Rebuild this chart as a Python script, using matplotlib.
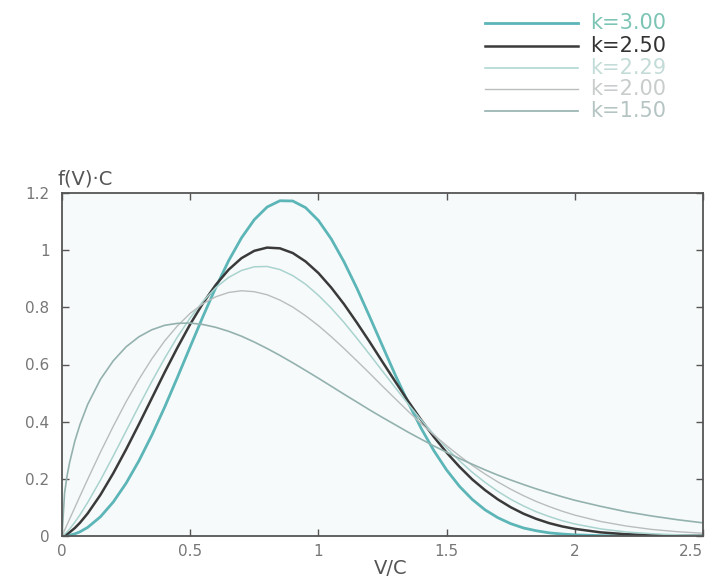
import matplotlib
matplotlib.use("Agg")
import matplotlib.pyplot as plt
from matplotlib.lines import Line2D

# V/C sample positions
v = [0.0, 0.01, 0.02, 0.03, 0.05, 0.07, 0.1, 0.15, 0.2, 0.25, 0.3, 0.35, 0.4, 0.45, 0.5,
     0.55, 0.6, 0.65, 0.7, 0.75, 0.8, 0.85, 0.9, 0.95, 1.0, 1.05, 1.1, 1.15, 1.2, 1.25,
     1.3, 1.35, 1.4, 1.45, 1.5, 1.55, 1.6, 1.65, 1.7, 1.75, 1.8, 1.85, 1.9, 1.95, 2.0,
     2.1, 2.2, 2.3, 2.4, 2.5]

# f(V)*C values read for each shape factor k
f_k300 = [0.0, 0.0003, 0.0012, 0.0027, 0.0075, 0.0147, 0.030, 0.0673, 0.119, 0.1846,
          0.263, 0.3521, 0.450, 0.5546, 0.662, 0.7684, 0.870, 0.9632, 1.043, 1.1067,
          1.151, 1.1729, 1.172, 1.1488, 1.104, 1.0395, 0.959, 0.8669, 0.767, 0.6647,
          0.563, 0.4670, 0.378, 0.2990, 0.231, 0.1740, 0.128, 0.0915, 0.064, 0.0432,
          0.028, 0.0183, 0.011, 0.0069, 0.004, 0.0013, 0.0004, 0.0001, 0.0, 0.0]
f_k250 = [0.0, 0.0025, 0.0071, 0.0130, 0.0279, 0.0462, 0.0788, 0.1440, 0.2196, 0.3029,
          0.391, 0.4815, 0.572, 0.6588, 0.741, 0.8148, 0.879, 0.9319, 0.972, 0.9977,
          1.009, 1.0064, 0.990, 0.9604, 0.920, 0.8691, 0.811, 0.7464, 0.679, 0.6090,
          0.540, 0.4718, 0.407, 0.3472, 0.292, 0.2424, 0.198, 0.1605, 0.128, 0.1007,
          0.078, 0.0598, 0.045, 0.0336, 0.025, 0.0128, 0.0062, 0.0029, 0.0012, 0.0005]
f_k229 = [0.0, 0.0060, 0.0147, 0.0249, 0.0480, 0.0740, 0.117, 0.1956, 0.280, 0.3673,
          0.455, 0.5401, 0.621, 0.6962, 0.763, 0.8212, 0.869, 0.9047, 0.929, 0.9418,
          0.943, 0.9321, 0.911, 0.8809, 0.842, 0.7972, 0.747, 0.6919, 0.635, 0.5767,
          0.519, 0.4619, 0.407, 0.3557, 0.308, 0.2633, 0.223, 0.1876, 0.156, 0.1285,
          0.105, 0.0847, 0.068, 0.0537, 0.042, 0.025, 0.014, 0.008, 0.004, 0.002]
f_k200 = [0.0, 0.020, 0.040, 0.0599, 0.0995, 0.1393, 0.198, 0.2933, 0.384, 0.4697,
          0.548, 0.6193, 0.682, 0.7350, 0.779, 0.8129, 0.837, 0.8520, 0.858, 0.8547,
          0.844, 0.8254, 0.801, 0.7705, 0.736, 0.6974, 0.656, 0.6129, 0.569, 0.5240,
          0.480, 0.4364, 0.394, 0.3542, 0.316, 0.2805, 0.247, 0.2168, 0.189, 0.1637,
          0.141, 0.1207, 0.103, 0.0870, 0.073, 0.051, 0.035, 0.023, 0.015, 0.0097]
f_k150 = [0.0, 0.150, 0.212, 0.2585, 0.332, 0.3896, 0.460, 0.5482, 0.613, 0.6619,
          0.697, 0.7214, 0.737, 0.7440, 0.745, 0.7398, 0.730, 0.7161, 0.699, 0.6785,
          0.656, 0.6317, 0.606, 0.5792, 0.552, 0.5241, 0.496, 0.4687, 0.441, 0.4146,
          0.389, 0.3632, 0.339, 0.3151, 0.293, 0.2712, 0.251, 0.2314, 0.213, 0.1960,
          0.180, 0.1648, 0.151, 0.1375, 0.125, 0.104, 0.085, 0.070, 0.057, 0.046]

labels = ["k=3.00", "k=2.50", "k=2.29", "k=2.00", "k=1.50"]
series = [f_k300, f_k250, f_k229, f_k200, f_k150]
colors = ["#5cb5b7", "#3a3a3a", "#a9d3cf", "#b9bdbd", "#93b2af"]
widths = [2.0, 1.8, 1.1, 1.0, 1.2]
text_colors = ["#7cc4b4", "#333333", "#c4dcd8", "#c8cccc", "#b4c4c2"]
xticks = [0, 0.5, 1, 1.5, 2, 2.5]
xticklabels = ["0", "0.5", "1", "1.5", "2", "2.5"]
yticks = [0, 0.2, 0.4, 0.6, 0.8, 1.0, 1.2]
yticklabels = ["0", "0.2", "0.4", "0.6", "0.8", "1", "1.2"]

W, H = 709, 584
fig = plt.figure(figsize=(7.09, 5.84), dpi=100)
fig.patch.set_facecolor("white")
ax = fig.add_axes([62 / W, 1 - 536 / H, (703 - 62) / W, (536 - 193) / H])
ax.set_facecolor("#f7fafa")

lines = []
for ys, c, w, lab in zip(series, colors, widths, labels):
    ln, = ax.plot(v, ys, color=c, lw=w, label=lab, solid_capstyle="round",
                  solid_joinstyle="round")
    lines.append(ln)

ax.set_xlim(0, 2.5)
ax.set_ylim(0, 1.2)
ax.set_xticks(xticks)
ax.set_xticklabels(xticklabels)
ax.set_yticks(yticks)
ax.set_yticklabels(yticklabels)
ax.tick_params(direction="in", top=True, right=True, length=5, width=1,
               colors="#555555", labelcolor="#777777", labelsize=11)
ax.tick_params(axis="y", pad=9)
ax.tick_params(axis="x", pad=6)
ax.get_xticklabels()[-1].set_ha("right")
for s in ax.spines.values():
    s.set_color("#555555")
    s.set_linewidth(1.3)

fig.text(58 / W, 1 - 179 / H, "f(V)\u00b7C", fontsize=14, color="#555555",
         ha="left", va="center")
fig.text(391 / W, 1 - 568 / H, "V/C", fontsize=14, color="#555555",
         ha="center", va="center")

# legend (top right)
rows = [23, 46, 68, 89, 111]
for ln, lab, tc, r in zip(lines, labels, text_colors, rows):
    yy = 1 - r / H
    fig.add_artist(Line2D([485 / W, 578 / W], [yy, yy], transform=fig.transFigure,
                          color=ln.get_color(), lw=ln.get_linewidth()))
    fig.text(590 / W, yy, lab, fontsize=15, color=tc, ha="left", va="center")

fig.savefig("out.png", dpi=100)
